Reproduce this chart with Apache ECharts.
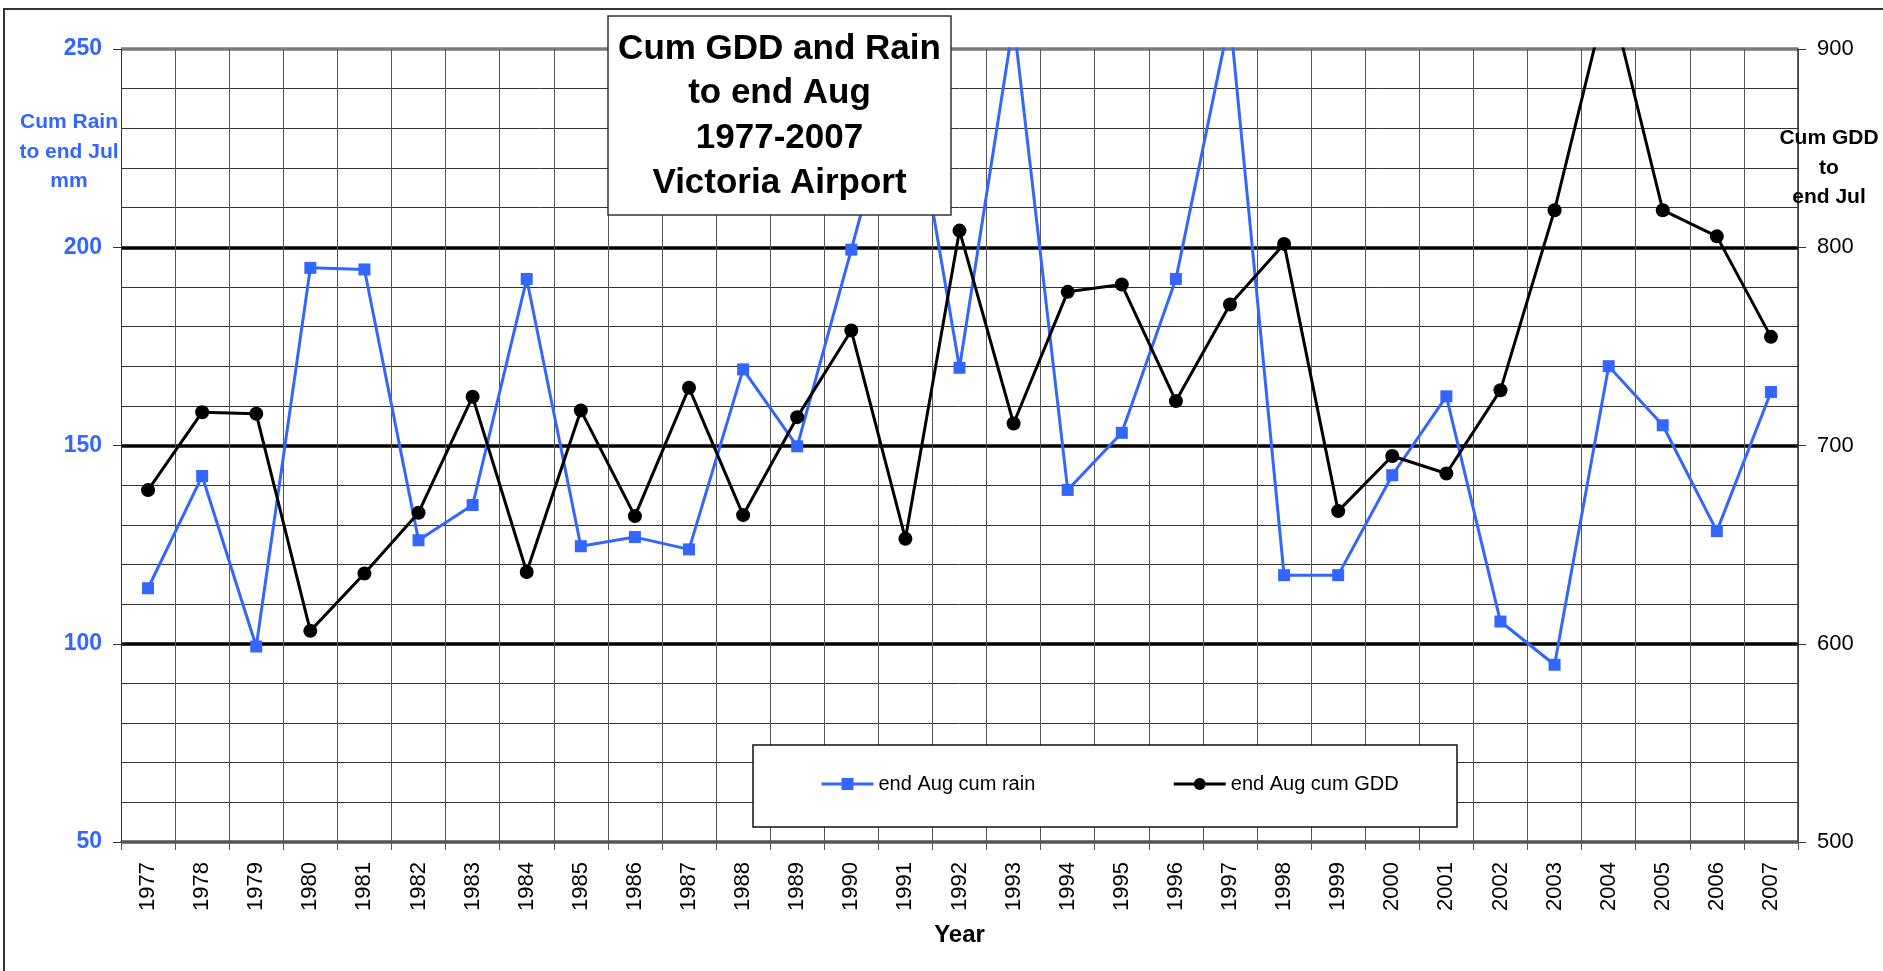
<!DOCTYPE html>
<html>
<head>
<meta charset="utf-8">
<title>Cum GDD and Rain to end Aug 1977-2007 Victoria Airport</title>
<script src="https://cdn.jsdelivr.net/npm/echarts@6.0.0/dist/echarts.min.js"></script>
<style>
  html, body { margin: 0; padding: 0; background: #fff; }
  #chart { width: 1883px; height: 971px; }
</style>
</head>
<body>
<div id="chart"></div>
<script>
// Years on the category axis
const years = [
  '1977', '1978', '1979', '1980', '1981', '1982', '1983', '1984', '1985', '1986',
  '1987', '1988', '1989', '1990', '1991', '1992', '1993', '1994', '1995', '1996',
  '1997', '1998', '1999', '2000', '2001', '2002', '2003', '2004', '2005', '2006', '2007'
]

// Cumulative rain to end Aug (mm), left axis
const rain = [
  114, 142.3, 99.3, 194.8, 194.4, 126.1, 135, 192, 124.6, 126.9,
  123.8, 169.2, 149.8, 199.4, 250, 169.6, 257, 138.8, 153.2, 192,
  258, 117.3, 117.3, 142.5, 162.4, 105.6, 94.7, 170, 155.1, 128.4, 163.5
]

// Cumulative GDD to end Aug, right axis
const gdd = [
  677.5, 716.8, 716, 606.5, 635.4, 666.1, 724.6, 636.2, 717.7, 664.4,
  729.1, 664.9, 714.3, 758, 653, 808.4, 711.1, 777.5, 781.2, 722.4,
  771.1, 801.7, 666.9, 694.7, 685.9, 727.9, 818.7, 930, 818.7, 805.5, 754.8
]

const seriesNames = ['end Aug cum rain', 'end Aug cum GDD']
const titleText = 'Cum GDD and Rain\nto end Aug\n1977-2007\nVictoria Airport'
const rainAxisName = 'Cum Rain\nto end Jul\nmm'
const gddAxisName = 'Cum GDD\nto\nend Jul'

const FONT = '"Liberation Sans", Arial, Helvetica, sans-serif'
const COLORS = {
  rain: '#3366ff',
  gdd: '#000000',
  grid: '#333333',
  vgrid: '#555555'
}

const chart = echarts.init(document.getElementById('chart'), null, { renderer: 'canvas' })

const option = {
  backgroundColor: '#ffffff',
  animation: false,
  textStyle: { fontFamily: FONT },
  grid: {
    left: 121,
    top: 49,
    right: 85,
    bottom: 129,
    containLabel: false,
    outerBoundsMode: 'none'
  },
  legend: {
    data: seriesNames,
    left: 820,
    top: 774,
    padding: 0,
    itemWidth: 52,
    itemHeight: 15,
    itemGap: 137,
    z: 10,
    lineStyle: { width: 3 },
    textStyle: { fontSize: 20, color: '#000', fontFamily: FONT }
  },
  xAxis: {
    type: 'category',
    data: years,
    boundaryGap: true,
    name: 'Year',
    nameLocation: 'middle',
    nameGap: 81,
    nameTextStyle: { fontSize: 24, fontWeight: 'bold', color: '#000', fontFamily: FONT },
    axisLine: { show: true, lineStyle: { color: '#555', width: 2 } },
    axisTick: { show: true, length: 8, interval: 0, lineStyle: { color: '#555', width: 1 } },
    axisLabel: {
      interval: 0,
      rotate: 90,
      margin: 20,
      fontSize: 22,
      color: '#000',
      fontFamily: FONT
    },
    splitLine: { show: true, interval: 0, lineStyle: { color: COLORS.vgrid, width: 1 } }
  },
  yAxis: [
    {
      type: 'value',
      min: 50,
      max: 250,
      interval: 50,
      position: 'left',
      axisLine: { show: true, lineStyle: { color: '#333', width: 1 } },
      axisTick: { show: true, length: 8, lineStyle: { color: '#333' } },
      axisLabel: {
        margin: 19,
        fontSize: 23,
        fontWeight: 'bold',
        color: COLORS.rain,
        fontFamily: FONT
      },
      splitLine: {
        show: true,
        lineStyle: { color: ['#555', '#000', '#000', '#000', '#7a7a7a'], width: 3.5 }
      },
      minorTick: { show: false, splitNumber: 5 },
      minorSplitLine: { show: true, lineStyle: { color: COLORS.grid, width: 1 } }
    },
    {
      type: 'value',
      min: 500,
      max: 900,
      interval: 100,
      position: 'right',
      axisLine: { show: true, lineStyle: { color: '#333', width: 1.5 } },
      axisTick: { show: true, length: 8, lineStyle: { color: '#333' } },
      axisLabel: {
        margin: 19,
        fontSize: 22,
        color: '#000',
        fontFamily: FONT
      },
      splitLine: { show: false },
      minorSplitLine: { show: false }
    }
  ],
  series: [
    {
      name: seriesNames[0],
      type: 'line',
      yAxisIndex: 0,
      data: rain,
      symbol: 'rect',
      symbolSize: 12,
      clip: true,
      itemStyle: { color: COLORS.rain },
      lineStyle: { color: COLORS.rain, width: 3 },
      z: 3
    },
    {
      name: seriesNames[1],
      type: 'line',
      yAxisIndex: 1,
      data: gdd,
      symbol: 'circle',
      symbolSize: 14,
      clip: true,
      itemStyle: { color: COLORS.gdd },
      lineStyle: { color: COLORS.gdd, width: 3 },
      z: 4
    }
  ],
  graphic: [
    {
      // chart area border
      type: 'rect',
      silent: true,
      z: -10,
      shape: { x: 4, y: 9, width: 1900, height: 1000 },
      style: { fill: 'none', stroke: '#333', lineWidth: 2 }
    },
    {
      // legend box
      type: 'rect',
      silent: true,
      z: 8,
      shape: { x: 753, y: 745, width: 704, height: 82 },
      style: { fill: '#fff', stroke: '#111', lineWidth: 1.5 }
    },
    {
      // title box
      type: 'rect',
      silent: true,
      z: 20,
      shape: { x: 608, y: 16, width: 343, height: 199 },
      style: { fill: '#fff', stroke: '#333', lineWidth: 1.5 }
    },
    {
      type: 'text',
      silent: true,
      z: 21,
      style: {
        text: titleText,
        x: 779.5,
        y: 116,
        textAlign: 'center',
        textVerticalAlign: 'middle',
        font: 'bold 35px ' + FONT,
        lineHeight: 44.6,
        fill: '#000'
      }
    },
    {
      type: 'text',
      silent: true,
      z: 21,
      style: {
        text: rainAxisName,
        x: 69,
        y: 152,
        textAlign: 'center',
        textVerticalAlign: 'middle',
        font: 'bold 21px ' + FONT,
        lineHeight: 29.5,
        fill: COLORS.rain
      }
    },
    {
      type: 'text',
      silent: true,
      z: 21,
      style: {
        text: gddAxisName,
        x: 1829,
        y: 168,
        textAlign: 'center',
        textVerticalAlign: 'middle',
        font: 'bold 21px ' + FONT,
        lineHeight: 29.5,
        fill: '#000'
      }
    }
  ]
}

chart.setOption(option)

window.addEventListener('resize', () => {
  chart.resize()
})
</script>
</body>
</html>
